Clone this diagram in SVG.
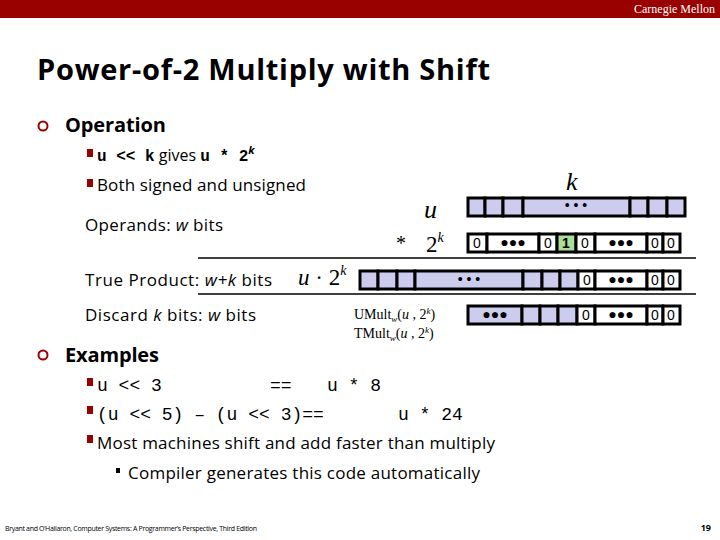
<svg xmlns="http://www.w3.org/2000/svg" width="720" height="540" viewBox="0 0 720 540">
<style>
.s{font-family:"Open Sans","Liberation Sans",sans-serif;fill:#000}
.m{font-family:"Liberation Mono",monospace;fill:#000}
.r{font-family:"Liberation Serif",serif;fill:#000}
.sh{fill:#ccccee;stroke:#000;stroke-width:3}
.wh{fill:#fff;stroke:#000;stroke-width:3}
.sep{stroke:#000;stroke-width:1.5}
.b{fill:#990000}
</style>
<rect x="0" y="0" width="720" height="18" fill="#990000"/>
<text x="715" y="13" text-anchor="end" font-family="Liberation Serif,serif" font-size="12" fill="#fff">Carnegie Mellon</text>
<text class="s" x="37" y="80" font-size="29" font-weight="bold" textLength="453">Power-of-2 Multiply with Shift</text>

<circle cx="43" cy="126" r="4.5" fill="none" stroke="#990000" stroke-width="2"/>
<text class="s" x="65" y="132" font-size="20" font-weight="bold" textLength="101">Operation</text>
<rect class="b" x="87" y="149" width="6" height="8"/>
<text x="97" y="161" font-size="16"><tspan class="m" font-weight="bold">u &lt;&lt; k</tspan><tspan class="s"> gives </tspan><tspan class="m" font-weight="bold">u * 2</tspan><tspan class="s" font-weight="bold" font-style="italic" font-size="11" dy="-7">k</tspan></text>
<rect class="b" x="87" y="179" width="6" height="8"/>
<text class="s" x="97" y="191" font-size="17" textLength="209">Both signed and unsigned</text>

<text class="s" x="85" y="231" font-size="17" textLength="138">Operands: <tspan font-style="italic">w</tspan> bits</text>
<text class="s" x="85" y="286" font-size="17" textLength="187">True Product: <tspan font-style="italic">w+k</tspan>  bits</text>
<text class="s" x="85" y="321" font-size="17" textLength="171">Discard <tspan font-style="italic">k</tspan>  bits: <tspan font-style="italic">w</tspan> bits</text>

<g id="k-label"><text class="r" x="566" y="190" font-size="26" font-style="italic">k</text></g>
<g id="u-label"><text class="r" x="424" y="218" font-size="26" font-style="italic">u</text></g>
<g id="twok-label"><text class="r" x="396" y="250" font-size="20">*</text><text class="r" x="426" y="252" font-size="23">2<tspan font-size="14" font-style="italic" dy="-10">k</tspan></text></g>
<g id="prod-label"><text class="r" x="298" y="285" font-size="23"><tspan font-style="italic">u</tspan> · 2<tspan font-size="14" font-style="italic" dy="-10">k</tspan></text></g>
<g id="mult-label">
<text class="r" x="354" y="319" font-size="14">UMult<tspan font-size="9" font-style="italic" dy="3">w</tspan><tspan dy="-3">(</tspan><tspan font-style="italic">u</tspan> , 2<tspan font-size="9" font-style="italic" dy="-5">k</tspan><tspan dy="5">)</tspan></text>
<text class="r" x="354" y="338" font-size="14">TMult<tspan font-size="9" font-style="italic" dy="3">w</tspan><tspan dy="-3">(</tspan><tspan font-style="italic">u</tspan> , 2<tspan font-size="9" font-style="italic" dy="-5">k</tspan><tspan dy="5">)</tspan></text>
</g>

<g id="row-u">
<rect class="sh" x="468" y="198" width="17" height="18"/>
<rect class="sh" x="485" y="198" width="18" height="18"/>
<rect class="sh" x="503" y="198" width="20" height="18"/>
<rect class="sh" x="523" y="198" width="107" height="18"/>
<rect class="sh" x="630" y="198" width="18" height="18"/>
<rect class="sh" x="648" y="198" width="19" height="18"/>
<rect class="sh" x="667" y="198" width="18" height="18"/>
<text x="576" y="210" font-family="Liberation Sans,sans-serif" font-size="14" text-anchor="middle">• • •</text>
</g>
<g id="row-2k" font-family="Liberation Sans,sans-serif" font-size="14" text-anchor="middle">
<rect class="wh" x="468" y="234" width="19" height="18"/>
<rect class="wh" x="487" y="234" width="52" height="18"/>
<rect class="wh" x="539" y="234" width="18" height="18"/>
<rect x="557" y="234" width="19" height="18" fill="#aade99" stroke="#000" stroke-width="3"/>
<rect class="wh" x="576" y="234" width="19" height="18"/>
<rect class="wh" x="595" y="234" width="52" height="18"/>
<rect class="wh" x="647" y="234" width="16" height="18"/>
<rect class="wh" x="663" y="234" width="17" height="18"/>
<text x="477" y="248">0</text><text x="513" y="247">●●●</text><text x="548" y="248">0</text><text x="566" y="248" font-weight="bold">1</text><text x="585" y="248">0</text><text x="621" y="247">●●●</text><text x="655" y="248">0</text><text x="671" y="248">0</text>
</g>
<g id="connectors">
<line class="sep" x1="198" y1="258" x2="696" y2="258"/>
<line class="sep" x1="198" y1="294" x2="696" y2="294"/>
</g>
<g id="row-prod" font-family="Liberation Sans,sans-serif" font-size="14" text-anchor="middle">
<rect class="sh" x="360" y="271" width="18" height="18"/>
<rect class="sh" x="378" y="271" width="19" height="18"/>
<rect class="sh" x="397" y="271" width="18" height="18"/>
<rect class="sh" x="415" y="271" width="108" height="18"/>
<rect class="sh" x="523" y="271" width="19" height="18"/>
<rect class="sh" x="542" y="271" width="18" height="18"/>
<rect class="sh" x="560" y="271" width="18" height="18"/>
<rect class="wh" x="578" y="271" width="17" height="18"/>
<rect class="wh" x="595" y="271" width="52" height="18"/>
<rect class="wh" x="647" y="271" width="16" height="18"/>
<rect class="wh" x="663" y="271" width="17" height="18"/>
<text x="469" y="284">• • •</text><text x="587" y="285">0</text><text x="621" y="284">●●●</text><text x="655" y="285">0</text><text x="671" y="285">0</text>
</g>
<g id="row-mult" font-family="Liberation Sans,sans-serif" font-size="14" text-anchor="middle">
<rect class="sh" x="468" y="306" width="54" height="18"/>
<rect class="sh" x="522" y="306" width="18" height="18"/>
<rect class="sh" x="540" y="306" width="18" height="18"/>
<rect class="sh" x="558" y="306" width="19" height="18"/>
<rect class="wh" x="577" y="306" width="18" height="18"/>
<rect class="wh" x="595" y="306" width="52" height="18"/>
<rect class="wh" x="647" y="306" width="16" height="18"/>
<rect class="wh" x="663" y="306" width="17" height="18"/>
<text x="495" y="319">●●●</text><text x="586" y="320">0</text><text x="621" y="319">●●●</text><text x="655" y="320">0</text><text x="671" y="320">0</text>
</g>

<circle cx="43" cy="355" r="4.5" fill="none" stroke="#990000" stroke-width="2"/>
<text class="s" x="65" y="362" font-size="20" font-weight="bold" textLength="94">Examples</text>
<rect class="b" x="87" y="378" width="6" height="8"/>
<text class="m" x="97" y="391" font-size="18" xml:space="preserve">u &lt;&lt; 3</text>
<text class="m" x="270" y="391" font-size="18">==</text>
<text class="m" x="327" y="391" font-size="18">u * 8</text>
<rect class="b" x="87" y="406" width="6" height="8"/>
<text class="m" x="97" y="420" font-size="18" xml:space="preserve">(u &lt;&lt; 5) – (u &lt;&lt; 3)==</text>
<text class="m" x="398" y="420" font-size="18">u * 24</text>
<rect class="b" x="87" y="435" width="6" height="8"/>
<text class="s" x="97" y="449" font-size="17" textLength="398">Most machines shift and add faster than multiply</text>
<rect x="116" y="468" width="4" height="5" fill="#000"/>
<text class="s" x="128" y="479" font-size="17" textLength="352">Compiler generates this code automatically</text>

<text class="s" x="5" y="531" font-size="7" textLength="252">Bryant and O’Hallaron, Computer Systems: A Programmer’s Perspective, Third Edition</text>
<text class="s" x="711" y="531" font-size="9" font-weight="bold" text-anchor="end">19</text>
</svg>
